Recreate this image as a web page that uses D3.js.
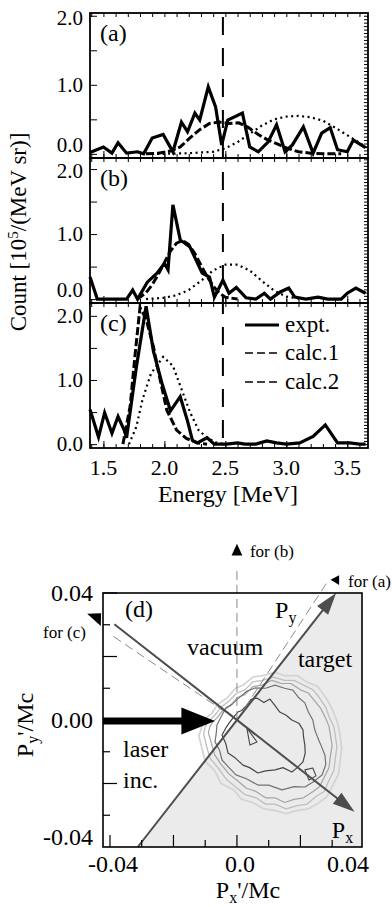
<!DOCTYPE html>
<html>
<head>
<meta charset="utf-8">
<script src="https://d3js.org/d3.v7.min.js"></script>
<style>
  body { margin: 0; background: #fff; }
  text { font-family: 'Liberation Serif', 'Times New Roman', Times, 'DejaVu Serif', serif; fill: #000; }
</style>
</head>
<body>
<svg id="fig" width="392" height="907" font-family="Liberation Serif, Times New Roman, Times, DejaVu Serif, serif"></svg>
<script>
// ---- spectra (energy MeV, count 1e5/(MeV sr)) ----
const energyTicks = [1.5, 2.0, 2.5, 3.0, 3.5];
const countTicks = [0, 1, 2];
const countTickLabels = ['0.0', '1.0', '2.0'];
const panelNames = ['(a)', '(b)', '(c)'];
const cutEnergy = 2.48;

const exptA = [[1.39,0.02],[1.50,0.10],[1.57,0.01],[1.62,0.16],[1.69,0.01],[1.78,0.03],[1.83,0.0],[1.90,0.23],[1.99,0.28],[2.07,0.03],[2.14,0.46],[2.19,0.32],[2.25,0.59],[2.29,0.49],[2.36,0.97],[2.42,0.68],[2.47,0.13],[2.52,0.49],[2.64,0.59],[2.70,0.10],[2.77,0.03],[2.85,0.17],[2.92,0.42],[2.99,0.03],[3.05,0.13],[3.14,0.39],[3.22,0.01],[3.29,0.30],[3.36,0.38],[3.42,0.06],[3.50,0.03],[3.55,0.20],[3.65,0.09]];
const calc1A = [[1.85,0],[1.95,0.01],[2.05,0.04],[2.13,0.1],[2.21,0.23],[2.29,0.35],[2.37,0.44],[2.45,0.46],[2.53,0.44],[2.61,0.45],[2.69,0.38],[2.77,0.28],[2.85,0.2],[2.93,0.14],[3.01,0.08],[3.1,0.03],[3.2,0.01],[3.3,0],[3.45,0]];
const calc2A = [[1.85,0],[2.0,0],[2.2,0.01],[2.4,0.03],[2.5,0.08],[2.6,0.17],[2.7,0.29],[2.8,0.41],[2.9,0.5],[3.0,0.54],[3.1,0.55],[3.2,0.53],[3.3,0.48],[3.4,0.38],[3.5,0.27],[3.6,0.16],[3.66,0.09]];

const exptB = [[1.39,0.34],[1.45,0],[1.53,0],[1.62,0],[1.69,0],[1.74,0.14],[1.78,0],[1.86,0.26],[1.94,0.4],[2.0,0.55],[2.03,0.45],[2.07,1.45],[2.13,0.91],[2.21,0.8],[2.26,0.6],[2.31,0.4],[2.37,0.34],[2.41,0.03],[2.48,0.29],[2.53,0.09],[2.59,0.18],[2.67,0.02],[2.75,0],[2.82,0.09],[2.87,0],[2.95,0.11],[3.02,0.17],[3.07,0.03],[3.16,0],[3.26,0.03],[3.34,0],[3.45,0],[3.5,0.09],[3.57,0.17],[3.65,0.09]];
const calc1B = [[1.78,0],[1.85,0.1],[1.9,0.22],[1.95,0.38],[2.0,0.56],[2.05,0.74],[2.1,0.86],[2.15,0.9],[2.2,0.84],[2.25,0.7],[2.3,0.52],[2.35,0.35],[2.4,0.2],[2.45,0.09],[2.5,0.03],[2.6,0]];
const calc2B = [[1.85,0],[2.0,0.02],[2.1,0.06],[2.2,0.14],[2.3,0.28],[2.4,0.44],[2.5,0.53],[2.6,0.53],[2.7,0.44],[2.8,0.28],[2.9,0.13],[3.0,0.04],[3.1,0.01],[3.2,0]];

const exptC = [[1.39,0.54],[1.46,0.11],[1.51,0.49],[1.57,0.17],[1.62,0.43],[1.67,0.22],[1.69,0.1],[1.77,1.2],[1.85,2.15],[1.91,1.45],[1.98,0.95],[2.05,0.52],[2.13,0.74],[2.19,0.36],[2.23,0.06],[2.27,0.02],[2.35,0.1],[2.41,0],[2.51,0],[2.6,0.02],[2.66,0],[2.75,0],[2.84,0.05],[2.92,0.02],[3.0,0],[3.11,0.02],[3.22,0.12],[3.32,0.3],[3.42,0.02],[3.52,0.02],[3.6,0],[3.65,0]];
const calc1C = [[1.66,0],[1.72,0.6],[1.76,1.4],[1.80,2.13],[1.85,1.95],[1.91,1.52],[1.96,1.05],[2.02,0.53],[2.1,0.22],[2.18,0.09],[2.27,0.02],[2.35,0]];
const calc2C = [[1.71,0],[1.77,0.27],[1.82,0.69],[1.89,1.1],[1.99,1.36],[2.07,1.22],[2.14,0.86],[2.21,0.5],[2.28,0.22],[2.35,0.1],[2.43,0.02],[2.5,0]];

const legendNames = ['expt.', 'calc.1', 'calc.2'];

// ---- momentum map (d), contour points in units of 1e-3 Mc ----
const pTicks = ['-0.04', '0.0', '0.04'];
const pyTickLabels = ['-0.04', '0.00', '0.04'];
const surfaceTiltDeg = 38;
const contour1 = [[-12,-5],[-11,-9],[-10,-13],[-7,-16],[-5,-20],[-1,-22],[1.5,-25],[5,-26],[8.5,-28],[12,-28.5],[15.5,-29.5],[19,-28.5],[22.5,-28],[26,-26],[28.5,-24],[30.5,-20],[32,-17],[32.5,-13],[33,-9],[32.5,-5],[32,-2],[31,1],[29.5,4.5],[28,7],[25.5,10.5],[22,12],[19,14],[15,14],[12,15],[8,14],[5,13.5],[2,11],[-0.5,10],[-3,7],[-6,5],[-8,2],[-10,0.5],[-11,-2]];
const contour2 = [[-10.5,-4.5],[-9.5,-8.5],[-8.5,-12],[-6,-15],[-3.5,-18.5],[-0.5,-21],[2.5,-23.5],[6,-24.5],[9,-26.5],[12,-26.5],[15.5,-28],[19,-27],[22,-26.5],[25,-24],[27.5,-22.5],[29,-19],[30.5,-16],[31,-12],[31.5,-8.5],[31,-5],[30.5,-2],[29,1],[28,4],[26,7],[24,9.5],[21,11],[18,12.5],[15,12.5],[11.5,13.5],[8,12.5],[5,12],[2.5,9.5],[0,8.5],[-2.5,6],[-5,4],[-7,1.5],[-8.5,0],[-10,-2]];
const contour3 = [[-9,-4],[-8,-7.5],[-7,-11],[-5,-14],[-2.5,-17],[0,-19],[3,-21.5],[6,-22.5],[9,-24.5],[12,-24.5],[15,-26],[18,-25],[21,-24.5],[24,-22.5],[26,-21],[27.5,-18],[29,-15],[29.5,-11],[30,-8],[29.5,-5],[29,-2],[28,0.5],[26.5,3.5],[24.5,6],[22.5,8.5],[20,9.5],[17,11.5],[14,11.5],[11,12.5],[8,11],[5,10.5],[2.5,8],[0,7],[-2,4.5],[-4.5,3],[-6,1],[-7.5,-0.5],[-8.5,-2]];
const contour4 = [[0.9,7.2],[3,9],[5.7,10.1],[9,10],[12,11],[15,10],[17.6,9.4],[19.5,7],[21.4,5.4],[22.5,2.5],[23.9,0],[24.5,-3],[25.5,-5.7],[26.5,-8],[27.7,-11],[28,-14],[26.8,-17.3],[24,-19.5],[21.4,-21.1],[18,-21],[14.2,-22],[10,-20.5],[6.6,-20.5],[3,-18.5],[-0.3,-17.3],[-2.5,-15],[-4.7,-12.6],[-5.5,-9.5],[-6.9,-6.9],[-6.5,-4],[-6.3,-1.6],[-5,1],[-3.5,3.8],[-1.5,5]];
const contour5 = [[3.1,4.7],[4.5,6.5],[6.3,6.9],[8.5,5.5],[10.4,6.6],[12,4.5],[13.5,2.5],[15.5,1.5],[17.3,0],[19.5,-1],[20.8,-3.1],[21,-5.5],[21.4,-7.9],[21.5,-10.5],[20.8,-13.2],[19,-15],[17.3,-16.4],[14.5,-15],[12,-15.7],[9,-16],[6.6,-16.7],[4,-15],[1.9,-14.2],[-0.5,-12],[-2.8,-10.4],[-3.5,-7.5],[-4.7,-4.7],[-3.5,-2.5],[-2.2,-0.6],[-1,1],[0.3,2.5],[1.5,3]];
const contour6 = [[3.1,-2.5],[4.1,-7.9],[6.3,-6.9],[4.7,-4.7]];
const contour7 = [[21.4,-15.7],[23.9,-15.1],[24.9,-17.6],[22.7,-18.9]];

const serif = "'Liberation Serif', 'Times New Roman', Times, 'DejaVu Serif', serif";
const svg = d3.select('#fig');

// ================= energy spectra =================
const x = d3.scaleLinear().domain([1.39, 3.67]).range([90, 368]);
const panelTop = [13, 158, 303];
const panelH = 145;
const yMax = [2.04, 2.17, 2.2];
const spectra = [
  [exptA, calc1A, calc2A],
  [exptB, calc1B, calc2B],
  [exptC, calc1C, calc2C],
];
const styles = [
  { w: 3.2, dash: null },
  { w: 3, dash: '8,3' },
  { w: 2.2, dash: '2,3.5' },
];

function tickAxis(g, axis) {
  g.call(axis);
  g.select('.domain').remove();
  g.selectAll('.tick text').remove();
  g.selectAll('.tick line').attr('stroke', '#000').attr('stroke-width', 1);
}

spectra.forEach((set, i) => {
  const top = panelTop[i];
  const bottom = top + panelH;
  const y = d3.scaleLinear().domain([-0.06, yMax[i]]).range([bottom, top]);
  const g = svg.append('g');

  g.append('g').attr('transform', `translate(0,${bottom})`)
    .call(tickAxis, d3.axisBottom(x).tickValues(x.ticks(22)).tickSize(-4));
  g.append('g').attr('transform', `translate(0,${bottom})`)
    .call(tickAxis, d3.axisBottom(x).tickValues(energyTicks).tickSize(-7));
  g.append('g').attr('transform', `translate(0,${top})`)
    .call(tickAxis, d3.axisTop(x).tickValues(x.ticks(22)).tickSize(-4));
  g.append('g').attr('transform', `translate(90,0)`)
    .call(tickAxis, d3.axisLeft(y).tickValues([0, 0.5, 1, 1.5, 2]).tickSize(-7));
  g.append('g').attr('transform', `translate(368,0)`)
    .call(tickAxis, d3.axisRight(y).tickValues(y.ticks(40).filter(v => v >= 0)).tickSize(-4));

  g.append('rect')
    .attr('x', 90).attr('y', top).attr('width', 278).attr('height', panelH)
    .attr('fill', 'none').attr('stroke', '#000').attr('stroke-width', 1.8);

  // y tick labels (kept clear of the neighbouring panel's labels)
  g.selectAll('.ylab')
    .data(countTicks)
    .enter()
    .append('text')
    .attr('class', 'ylab')
    .attr('x', 83)
    .attr('y', (d) => {
      let yy = y(d) + 7;
      if (i < 2) yy = Math.min(yy, bottom - 6);
      return Math.max(yy, top + (i === 0 ? 12 : 20));
    })
    .attr('text-anchor', 'end')
    .style('font-family', serif)
    .style('font-size', '21px')
    .text((d, k) => countTickLabels[k]);

  g.append('text')
    .attr('x', 100).attr('y', top + 28)
    .style('font-family', serif)
    .style('font-size', '24px')
    .text(panelNames[i]);

  const line = d3.line().x((d) => x(d[0])).y((d) => y(d[1]));
  set.forEach((s, k) => {
    g.append('path')
      .datum(s)
      .attr('d', line)
      .attr('fill', 'none')
      .attr('stroke', '#000')
      .attr('stroke-width', styles[k].w)
      .attr('stroke-dasharray', styles[k].dash)
      .attr('stroke-linejoin', 'miter');
  });
});

// vertical cut line through all spectra
svg.append('line')
  .attr('x1', x(cutEnergy)).attr('x2', x(cutEnergy))
  .attr('y1', panelTop[0] + 4).attr('y2', panelTop[2] + panelH - 2)
  .attr('stroke', '#000').attr('stroke-width', 2)
  .attr('stroke-dasharray', '18,13');

// energy tick labels
svg.selectAll('.xlab')
  .data(energyTicks)
  .enter()
  .append('text')
  .attr('class', 'xlab')
  .attr('x', (d) => x(d))
  .attr('y', 475)
  .attr('text-anchor', 'middle')
  .style('font-family', serif)
  .style('font-size', '22px')
  .text((d) => d.toFixed(1));

svg.append('text')
  .attr('x', 228).attr('y', 502)
  .attr('text-anchor', 'middle')
  .style('font-family', serif)
  .style('font-size', '24px')
  .text('Energy [MeV]');

const countTitle = svg.append('text')
  .attr('transform', 'translate(26,232) rotate(-90)')
  .attr('text-anchor', 'middle')
  .style('font-family', serif)
  .style('font-size', '23px');
countTitle.append('tspan').text('Count [10');
countTitle.append('tspan').attr('dy', -8).style('font-size', '15px').text('5');
countTitle.append('tspan').attr('dy', 8).text('/(MeV sr)]');

// legend in panel (c)
const legY = [325, 353, 382];
legendNames.forEach((name, k) => {
  svg.append('line')
    .attr('x1', 245).attr('x2', 279)
    .attr('y1', legY[k]).attr('y2', legY[k])
    .attr('stroke', '#000')
    .attr('stroke-width', k === 0 ? 3.2 : 1.6)
    .attr('stroke-dasharray', k === 0 ? null : '8,4');
  svg.append('text')
    .attr('x', 285).attr('y', legY[k] + 7)
    .style('font-family', serif)
    .style('font-size', '23px')
    .text(name);
});

// ================= momentum map (d) =================
const px = d3.scaleLinear().domain([-0.0422, 0.0394]).range([103, 362]);
const py = d3.scaleLinear().domain([-0.04, 0.04]).range([847, 593]);
const [x0, x1] = px.domain();
const [y0, y1] = py.domain();
const th = surfaceTiltDeg * Math.PI / 180;
const tanT = Math.tan(th);
const d = svg.append('g');

// target side (grey)
const targetPoly = [[y0 * tanT, y0], [x1, y0], [x1, y1], [y1 * tanT, y1]];
d.append('path')
  .datum(targetPoly)
  .attr('d', d3.line().x((p) => px(p[0])).y((p) => py(p[1])).curve(d3.curveLinearClosed))
  .attr('fill', '#ebebeb');

// contours
const cLine = d3.line()
  .x((p) => px(p[0] / 1000))
  .y((p) => py(p[1] / 1000))
  .curve(d3.curveLinearClosed);
const contours = [
  [contour1, '#d4d4d4', 1.8],
  [contour2, '#bebebe', 1.3],
  [contour3, '#a4a4a4', 1.2],
  [contour4, '#737373', 1.2],
  [contour5, '#474747', 1.2],
  [contour6, '#474747', 1.1],
  [contour7, '#474747', 1.1],
];
contours.forEach(([pts, col, w]) => {
  d.append('path').datum(pts).attr('d', cLine)
    .attr('fill', 'none').attr('stroke', col).attr('stroke-width', w)
    .attr('stroke-linejoin', 'round');
});

// thin dashed detector directions
const thin = (a, b) => d.append('line')
  .attr('x1', px(a[0])).attr('y1', py(a[1]))
  .attr('x2', px(b[0])).attr('y2', py(b[1]))
  .attr('stroke', '#8a8a8a').attr('stroke-width', 1)
  .attr('stroke-dasharray', '9,5');
thin([0, 0], [0, 0.0485]);
thin([0, 0], [0.0285, 0.0435]);
thin([0, 0], [-0.0402, 0.0272]);

function arrow(from, to, col, w, len, half) {
  const ax = px(from[0]), ay = py(from[1]);
  const bx = px(to[0]), by = py(to[1]);
  const L = Math.hypot(bx - ax, by - ay);
  const ux = (bx - ax) / L, uy = (by - ay) / L;
  const cx = bx - ux * len, cy = by - uy * len;
  d.append('line')
    .attr('x1', ax).attr('y1', ay).attr('x2', cx + ux * 2).attr('y2', cy + uy * 2)
    .attr('stroke', col).attr('stroke-width', w);
  d.append('path')
    .attr('d', `M${bx},${by}L${cx - uy * half},${cy + ux * half}L${cx + uy * half},${cy - ux * half}Z`)
    .attr('fill', col);
}
// P_y along the surface, P_x along the normal
arrow([y0 * tanT, y0], [y1 * tanT, y1], '#4d4d4d', 2, 22, 7);
arrow([-0.049 * Math.cos(th), 0.049 * Math.sin(th)], [0.047 * Math.cos(th), -0.047 * Math.sin(th)], '#4d4d4d', 2, 22, 7);

// laser arrow
const ly = py(0) + 1;
d.append('path')
  .attr('d', `M${px(x0)},${ly - 3.5}L${px(-0.0175)},${ly - 3.5}L${px(-0.0175)},${ly - 13.5}` +
    `L${px(-0.0069)},${ly}L${px(-0.0175)},${ly + 13.5}L${px(-0.0175)},${ly + 3.5}L${px(x0)},${ly + 3.5}Z`)
  .attr('fill', '#000');

// detector markers
const tri = (pts) => d.append('path')
  .attr('d', 'M' + pts.map((p) => `${px(p[0])},${py(p[1])}`).join('L') + 'Z')
  .attr('fill', '#000');
tri([[-0.0017, 0.0518], [0.0017, 0.0518], [0, 0.0555]]);
tri([[0.0295, 0.0442], [0.0322, 0.0456], [0.0322, 0.0425]]);
tri([[-0.0472, 0.0335], [-0.0428, 0.0336], [-0.0429, 0.0296]]);

// frame and ticks
d.append('rect')
  .attr('x', px(x0)).attr('y', py(y1))
  .attr('width', px(x1) - px(x0)).attr('height', py(y0) - py(y1))
  .attr('fill', 'none').attr('stroke', '#000').attr('stroke-width', 1.6);

const even = (v) => Math.round(v * 100) % 2 === 0;
const xt = px.ticks(8);
d.selectAll('.xt').data(xt).enter().append('line')
  .attr('x1', (v) => px(v)).attr('x2', (v) => px(v))
  .attr('y1', py(y0)).attr('y2', (v) => py(y0) - (even(v) ? 12 : 7))
  .attr('stroke', '#000').attr('stroke-width', 1.2);
const yt = py.ticks(8).filter((v) => v > y0);
d.selectAll('.yt').data(yt).enter().append('line')
  .attr('x1', px(x0)).attr('x2', (v) => px(x0) + (even(v) ? 14 : 7))
  .attr('y1', (v) => py(v)).attr('y2', (v) => py(v))
  .attr('stroke', '#000').attr('stroke-width', 1.2);

// tick labels
pTicks.forEach((t, k) => {
  const v = +t;
  d.append('text')
    .attr('x', k === pTicks.length - 1 ? 369 : px(v) + 3)
    .attr('y', 872)
    .attr('text-anchor', k === pTicks.length - 1 ? 'end' : 'middle')
    .style('font-family', serif)
    .style('font-size', '24px')
    .text(t);
});
pyTickLabels.forEach((t) => {
  const v = +t;
  const yy = Math.max(Math.min(py(v) + 8, py(y0) - 2), py(y1) + 5);
  d.append('text')
    .attr('x', 93).attr('y', yy)
    .attr('text-anchor', 'end')
    .style('font-family', serif)
    .style('font-size', '24px')
    .text(t);
});

// annotations
const note = (p, txt, size) => d.append('text')
  .attr('x', px(p[0])).attr('y', py(p[1]))
  .style('font-family', serif)
  .style('font-size', size + 'px')
  .text(txt);
note([-0.0353, 0.0324], '(d)', 24);
note([-0.0157, 0.0205], 'vacuum', 24);
note([0.0192, 0.0167], 'target', 24);
note([-0.0359, -0.0117], 'laser', 24);
note([-0.0359, -0.0214], 'inc.', 24);
note([0.0041, 0.0513], 'for (b)', 17);
note([0.035, 0.0419], 'for (a)', 17);
note([-0.0611, 0.0258], 'for (c)', 17);

const sub = (p, main, s) => {
  const t = d.append('text').attr('x', px(p[0])).attr('y', py(p[1]))
    .style('font-family', serif).style('font-size', '24px');
  t.append('tspan').text(main);
  t.append('tspan').attr('dy', 5).style('font-size', '16px').text(s);
};
sub([0.012, 0.0321], 'P', 'y');
sub([0.0299, -0.0372], 'P', 'x');

const xTitle = svg.append('text')
  .attr('x', 248).attr('y', 898)
  .attr('text-anchor', 'middle')
  .style('font-family', serif)
  .style('font-size', '24px');
xTitle.append('tspan').text('P');
xTitle.append('tspan').attr('dy', 5).style('font-size', '16px').text('x');
xTitle.append('tspan').attr('dy', -5).text('\'/Mc');

const yTitle = svg.append('text')
  .attr('transform', 'translate(33,725) rotate(-90)')
  .attr('text-anchor', 'middle')
  .style('font-family', serif)
  .style('font-size', '24px');
yTitle.append('tspan').text('P');
yTitle.append('tspan').attr('dy', 5).style('font-size', '16px').text('y');
yTitle.append('tspan').attr('dy', -5).text('\'/Mc');
</script>
</body>
</html>
